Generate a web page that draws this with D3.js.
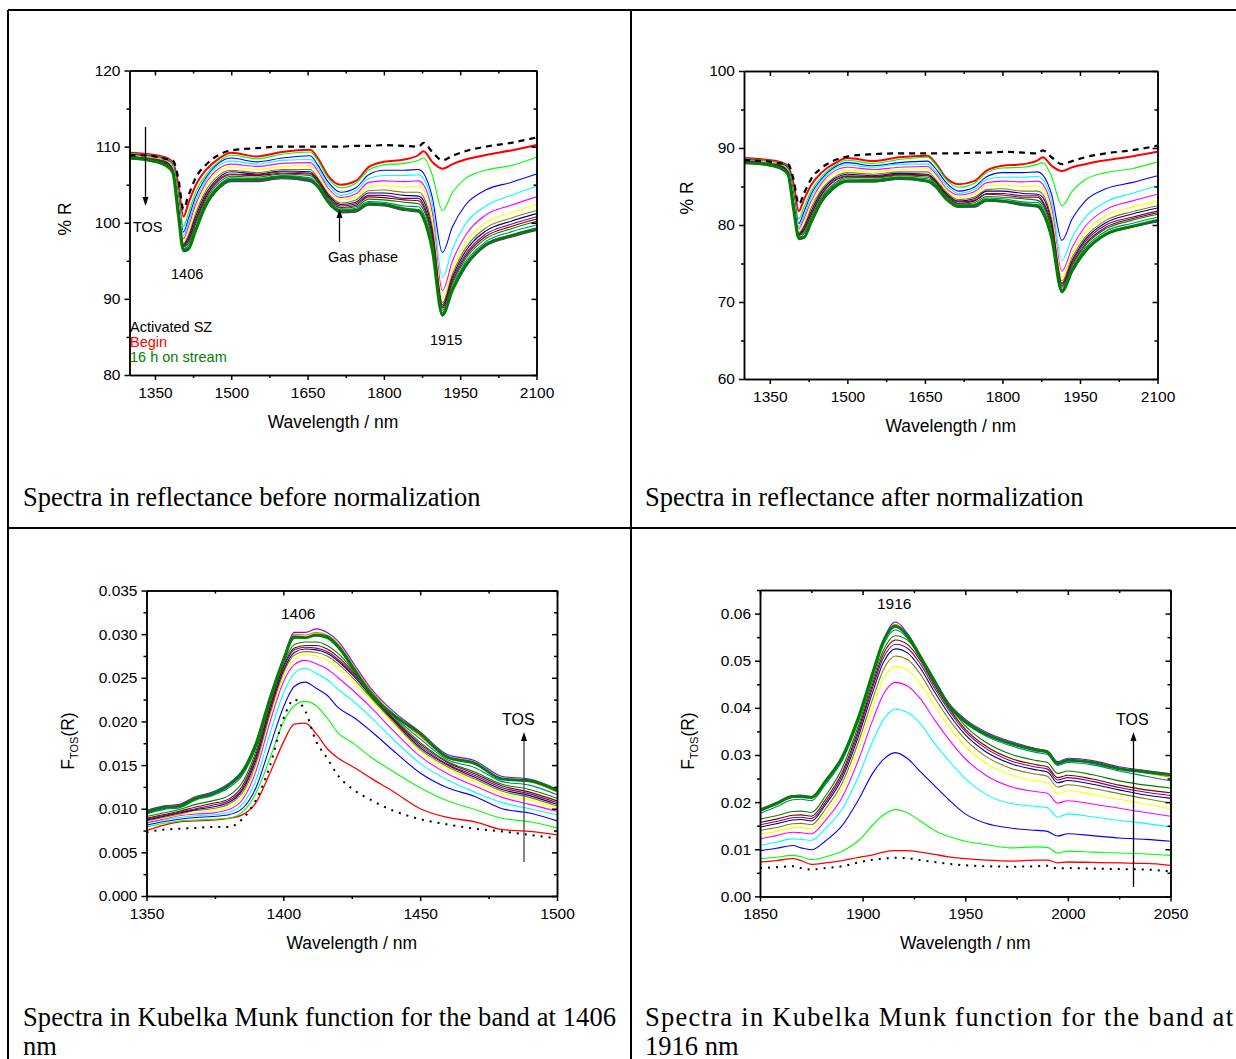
<!DOCTYPE html>
<html>
<head>
<meta charset="utf-8">
<script src="https://cdn.jsdelivr.net/npm/d3@7"></script>
<style>
  body { margin: 0; background: #fff; }
  text { font-family: "Liberation Sans", Arial, sans-serif; }
  .cap { font-family: "Liberation Serif", "Times New Roman", serif; font-size: 26.5px; }
</style>
</head>
<body>
<svg id="fig" width="1236" height="1059"></svg>
<script>
// wavelength grids (nm)
var wlNir = [1300,1340,1370,1385,1396,1406,1416,1430,1450,1475,1500,1550,1600,1655,1670,1690,1715,1745,1770,1800,1840,1868,1878,1895,1915,1935,1960,2000,2050,2100];
var wlBand1 = [1350,1356,1362,1368,1374,1380,1385,1390,1395,1400,1404,1408,1412,1416,1420,1426,1432,1440,1450,1460,1470,1480,1490,1500];
var wlBand2 = [1850,1858,1866,1870,1875,1882,1890,1898,1905,1910,1916,1922,1928,1935,1942,1950,1960,1972,1985,1990,1995,2000,2012,2025,2038,2050];

// line colours, in time-on-stream order (last one is the thick 16 h line)
var lineColors = ["#FF0000","#00FF00","#0000FF","#00FFFF","#FF00FF","#FFFF00","#808000","#000080","#800080","#800000","#008000","#008080","#FF8000","#8000FF","#008000"];

// panel 1: % R before normalization
var befAct    = [108.9,108.8,108.4,108.2,105.8,101.8,103.6,105.9,107.6,108.9,109.5,109.8,110.0,110.0,110.0,110.0,110.0,110.1,110.1,110.2,110.1,110.0,110.5,109.3,108.2,108.8,109.4,110.0,110.5,111.2];
var befRed    = [109.2,109.0,108.6,108.0,105.0,100.8,102.6,104.9,106.9,108.4,109.2,108.7,109.3,109.6,108.5,106.2,105.0,105.5,107.3,108.0,108.3,108.9,109.4,108.0,107.1,107.7,108.3,108.9,109.5,110.2];
var befGreen  = [109.1,108.9,108.5,107.8,104.0,99.5,101.3,104.0,106.3,108.0,108.9,108.4,109.0,109.3,108.2,105.9,104.6,105.2,106.9,107.6,107.8,108.2,108.5,106.3,101.6,104.0,105.8,106.9,107.5,108.6];
var befBlue   = [109.0,108.8,108.4,107.6,103.4,98.8,100.6,103.4,105.9,107.8,108.5,108.0,108.5,108.8,107.6,105.4,104.0,104.6,106.3,106.9,106.9,107.0,106.5,103.4,96.1,99.5,102.3,104.3,105.3,106.4];
var befCyan   = [108.9,108.7,108.3,107.5,103.0,98.3,100.0,102.9,105.6,107.5,108.1,107.7,108.2,108.3,107.2,105.0,103.6,104.2,105.8,106.2,106.2,106.3,105.8,102.5,92.8,96.6,99.8,102.2,103.6,104.8];
var befMagenta= [108.9,108.7,108.3,107.4,102.8,97.9,99.5,102.4,105.2,107.1,107.7,107.4,107.8,107.9,106.8,104.6,103.3,103.8,105.3,105.5,105.4,105.5,105.0,101.4,91.1,95.0,98.3,101.0,102.3,103.4];
var befYellow = [108.8,108.6,108.2,107.3,102.6,97.6,99.0,101.9,104.8,106.8,107.3,107.0,107.4,107.5,106.4,104.3,103.0,103.4,104.8,104.9,104.7,104.8,104.3,100.5,90.1,94.0,97.3,100.0,101.3,102.4];
var befDkYel  = [108.7,108.5,108.1,107.1,102.2,97.3,98.4,101.2,104.2,106.2,106.9,106.6,107.0,107.0,105.9,103.9,102.6,103.0,104.2,104.3,104.0,104.0,103.4,99.5,89.5,93.3,96.6,99.3,100.6,101.6];
var befNavy   = [108.7,108.4,108.0,107.0,102.0,97.1,98.1,100.8,103.8,105.9,106.7,106.4,106.8,106.7,105.7,103.7,102.4,102.7,103.9,103.9,103.6,103.5,102.9,99.0,89.2,92.9,96.2,98.9,100.2,101.2];
var befPurple = [108.6,108.4,107.9,106.9,101.8,97.0,97.8,100.4,103.5,105.7,106.4,106.3,106.7,106.5,105.6,103.5,102.2,102.5,103.6,103.6,103.2,103.2,102.4,98.5,89.0,92.6,95.8,98.5,99.8,100.8];
var befWine   = [108.6,108.3,107.9,106.9,101.6,96.9,97.6,100.1,103.3,105.5,106.3,106.2,106.5,106.4,105.4,103.4,102.0,102.3,103.4,103.3,103.0,102.9,102.1,98.1,88.8,92.3,95.5,98.2,99.5,100.5];
var befOlive  = [108.6,108.3,107.8,106.8,101.5,96.8,97.3,99.8,103.0,105.2,106.1,106.0,106.4,106.2,105.3,103.2,101.9,102.1,103.1,103.0,102.7,102.5,101.7,97.7,88.5,92.0,95.2,97.9,99.2,100.2];
var befTeal   = [108.5,108.2,107.7,106.7,101.3,96.6,97.0,99.4,102.7,104.9,105.9,105.8,106.2,105.9,105.0,103.0,101.7,101.9,102.8,102.7,102.2,102.1,101.2,97.1,88.2,91.6,94.8,97.5,98.8,99.7];
var befOrange = [108.5,108.2,107.6,106.6,101.1,96.5,96.7,99.1,102.4,104.7,105.7,105.7,106.1,105.7,104.9,102.9,101.6,101.7,102.6,102.5,101.9,101.7,100.8,96.7,88.0,91.3,94.4,97.2,98.4,99.3];
var befViolet = [108.4,108.1,107.5,106.5,100.8,96.2,96.4,98.8,102.1,104.4,105.4,105.4,105.8,105.4,104.6,102.6,101.3,101.4,102.3,102.2,101.6,101.4,100.4,96.3,87.7,91.0,94.1,96.9,98.1,99.0];
var befEnd    = [108.5,108.2,107.6,106.6,101.0,96.4,96.6,99.0,102.3,104.6,105.6,105.6,106.0,105.6,104.8,102.8,101.5,101.6,102.5,102.4,101.8,101.6,100.6,96.5,87.9,91.2,94.3,97.1,98.3,99.2];

// panel 2: % R after normalization
var aftAct    = [88.4,88.3,88.0,87.9,85.9,82.7,84.1,86.0,87.4,88.4,88.9,89.2,89.3,89.3,89.3,89.3,89.3,89.4,89.4,89.5,89.4,89.3,89.7,88.8,87.9,88.3,88.8,89.3,89.7,90.3];
var aftRed    = [88.7,88.5,88.2,87.7,85.3,81.8,83.3,85.2,86.8,88.0,88.7,88.3,88.8,89.0,88.1,86.2,85.3,85.7,87.1,87.7,87.9,88.4,88.8,87.7,87.0,87.5,87.9,88.4,88.9,89.5];
var aftGreen  = [88.6,88.4,88.1,87.5,84.4,80.8,82.3,84.4,86.3,87.7,88.4,88.0,88.5,88.8,87.9,86.0,84.9,85.4,86.8,87.4,87.5,87.9,88.1,86.3,82.5,84.4,85.9,86.8,87.3,88.2];
var aftBlue   = [88.5,88.3,88.0,87.4,84.0,80.2,81.7,84.0,86.0,87.5,88.1,87.7,88.1,88.3,87.4,85.6,84.4,84.9,86.3,86.8,86.8,86.9,86.5,84.0,78.0,80.8,83.1,84.7,85.5,86.4];
var aftCyan   = [88.4,88.3,87.9,87.3,83.6,79.8,81.2,83.6,85.7,87.3,87.8,87.5,87.9,87.9,87.0,85.3,84.1,84.6,85.9,86.2,86.2,86.3,85.9,83.2,75.4,78.4,81.0,83.0,84.1,85.1];
var aftMagenta= [88.4,88.3,87.9,87.2,83.5,79.5,80.8,83.1,85.4,87.0,87.5,87.2,87.5,87.6,86.7,84.9,83.9,84.3,85.5,85.7,85.6,85.7,85.3,82.3,74.0,77.1,79.8,82.0,83.1,84.0];
var aftYellow = [88.3,88.2,87.9,87.1,83.3,79.3,80.4,82.7,85.1,86.7,87.1,86.9,87.2,87.3,86.4,84.7,83.6,84.0,85.1,85.2,85.0,85.1,84.7,81.6,73.2,76.3,79.0,81.2,82.3,83.1];
var aftDkYel  = [88.3,88.1,87.8,87.0,83.0,79.0,79.9,82.2,84.6,86.2,86.8,86.6,86.9,86.9,86.0,84.4,83.3,83.6,84.6,84.7,84.4,84.4,84.0,80.8,72.7,75.8,78.4,80.6,81.7,82.5];
var aftNavy   = [88.3,88.0,87.7,86.9,82.8,78.8,79.7,81.8,84.3,86.0,86.6,86.4,86.7,86.6,85.8,84.2,83.1,83.4,84.4,84.4,84.1,84.0,83.6,80.4,72.4,75.4,78.1,80.3,81.4,82.2];
var aftPurple = [88.2,88.0,87.6,86.8,82.7,78.8,79.4,81.5,84.0,85.8,86.4,86.3,86.6,86.5,85.7,84.0,83.0,83.2,84.1,84.1,83.8,83.8,83.1,80.0,72.3,75.2,77.8,80.0,81.0,81.8];
var aftWine   = [88.2,87.9,87.6,86.8,82.5,78.7,79.3,81.3,83.9,85.7,86.3,86.2,86.5,86.4,85.6,84.0,82.8,83.1,84.0,83.9,83.6,83.6,82.9,79.7,72.1,74.9,77.5,79.7,80.8,81.6];
var aftOlive  = [88.2,87.9,87.5,86.7,82.4,78.6,79.0,81.0,83.6,85.4,86.2,86.1,86.4,86.2,85.5,83.8,82.7,82.9,83.7,83.6,83.4,83.2,82.6,79.3,71.9,74.7,77.3,79.5,80.6,81.4];
var aftTeal   = [88.1,87.9,87.5,86.6,82.3,78.4,78.8,80.7,83.4,85.2,86.0,85.9,86.2,86.0,85.3,83.6,82.6,82.7,83.5,83.4,83.0,82.9,82.2,78.8,71.6,74.4,77.0,79.2,80.2,81.0];
var aftOrange = [88.1,87.9,87.4,86.6,82.1,78.4,78.5,80.5,83.1,85.0,85.8,85.8,86.2,85.8,85.2,83.6,82.5,82.6,83.3,83.2,82.7,82.6,81.8,78.5,71.5,74.1,76.7,78.9,79.9,80.6];
var aftViolet = [88.0,87.8,87.3,86.5,81.8,78.1,78.3,80.2,82.9,84.8,85.6,85.6,85.9,85.6,84.9,83.3,82.3,82.3,83.1,83.0,82.5,82.3,81.5,78.2,71.2,73.9,76.4,78.7,79.7,80.4];
var aftEnd    = [88.1,87.9,87.4,86.6,82.0,78.3,78.4,80.4,83.1,84.9,85.7,85.7,86.1,85.7,85.1,83.5,82.4,82.5,83.2,83.1,82.7,82.5,81.7,78.4,71.4,74.1,76.6,78.8,79.8,80.6];

// panel 3: Kubelka-Munk, band at 1406 nm
var km1Act    = [.0073,.0076,.0077,.0078,.0079,.0079,.0088,.0110,.0148,.0203,.0225,.0212,.0177,.0158,.0138,.0121,.0110,.0098,.0088,.0082,.0077,.0074,.0070,.0066];
var km1Red    = [.0075,.0081,.0085,.0086,.0087,.0089,.0093,.0107,.0140,.0176,.0197,.0198,.0186,.0169,.0158,.0147,.0135,.0120,.0100,.0090,.0085,.0076,.0074,.0070];
var km1Green  = [.0079,.0083,.0086,.0087,.0088,.0089,.0096,.0118,.0157,.0199,.0218,.0223,.0218,.0204,.0187,.0174,.0159,.0143,.0124,.0109,.0099,.0089,.0085,.0078];
var km1Blue   = [.0081,.0085,.0088,.0090,.0091,.0093,.0100,.0124,.0170,.0216,.0240,.0245,.0238,.0230,.0216,.0204,.0189,.0167,.0141,.0124,.0114,.0100,.0095,.0086];
var km1Cyan   = [.0083,.0087,.0090,.0092,.0093,.0096,.0105,.0133,.0185,.0232,.0255,.0261,.0255,.0248,.0237,.0222,.0205,.0180,.0152,.0133,.0119,.0107,.0100,.0093];
var km1Magenta= [.0084,.0088,.0092,.0094,.0095,.0099,.0110,.0143,.0198,.0245,.0265,.0270,.0266,.0260,.0250,.0234,.0216,.0190,.0160,.0140,.0126,.0113,.0105,.0097];
var km1Yellow = [.0085,.0089,.0093,.0096,.0098,.0102,.0114,.0150,.0205,.0250,.0271,.0277,.0275,.0270,.0261,.0244,.0224,.0198,.0166,.0146,.0131,.0117,.0110,.0101];
var km1DkYel  = [.0086,.0090,.0094,.0098,.0100,.0105,.0118,.0152,.0207,.0255,.0276,.0280,.0279,.0275,.0266,.0248,.0227,.0200,.0168,.0148,.0134,.0120,.0113,.0103];
var km1Navy   = [.0087,.0091,.0095,.0099,.0102,.0107,.0121,.0156,.0211,.0258,.0279,.0283,.0282,.0278,.0269,.0251,.0229,.0202,.0170,.0150,.0136,.0122,.0115,.0105];
var km1Purple = [.0088,.0092,.0096,.0100,.0104,.0109,.0123,.0159,.0214,.0261,.0282,.0285,.0284,.0280,.0271,.0253,.0231,.0203,.0172,.0151,.0138,.0124,.0117,.0107];
var km1Wine   = [.0089,.0093,.0097,.0102,.0106,.0111,.0126,.0162,.0216,.0263,.0284,.0287,.0287,.0283,.0274,.0255,.0233,.0204,.0174,.0153,.0140,.0126,.0119,.0109];
var km1Olive  = [.0091,.0095,.0099,.0105,.0109,.0115,.0130,.0166,.0220,.0266,.0288,.0291,.0291,.0287,.0278,.0257,.0235,.0206,.0176,.0154,.0142,.0128,.0122,.0112];
var km1Teal   = [.0094,.0099,.0101,.0110,.0115,.0124,.0138,.0170,.0222,.0268,.0295,.0296,.0298,.0295,.0284,.0258,.0233,.0207,.0180,.0156,.0147,.0131,.0127,.0116];
var km1Orange = [.0096,.0101,.0104,.0112,.0117,.0126,.0141,.0173,.0225,.0271,.0300,.0299,.0302,.0299,.0289,.0262,.0236,.0209,.0183,.0158,.0151,.0134,.0131,.0119];
var km1Violet = [.0098,.0103,.0105,.0114,.0119,.0129,.0144,.0176,.0227,.0272,.0302,.0302,.0306,.0302,.0292,.0265,.0238,.0212,.0188,.0162,.0155,.0137,.0134,.0122];
var km1End    = [.0096,.0101,.0103,.0112,.0117,.0127,.0142,.0174,.0225,.0270,.0297,.0296,.0299,.0297,.0286,.0259,.0231,.0208,.0186,.0159,.0152,.0134,.0132,.0121];

// panel 4: Kubelka-Munk, band at 1916 nm
var km2Act    = [.0060,.0062,.0064,.0060,.0057,.0060,.0064,.0072,.0078,.0080,.0082,.0081,.0077,.0073,.0069,.0066,.0064,.0063,.0064,.0065,.0059,.0060,.0059,.0058,.0057,.0053];
var km2Red    = [.0073,.0076,.0080,.0076,.0068,.0071,.0076,.0083,.0088,.0094,.0097,.0097,.0094,.0089,.0084,.0080,.0077,.0075,.0077,.0077,.0071,.0073,.0072,.0071,.0070,.0066];
var km2Green  = [.0080,.0083,.0087,.0084,.0078,.0084,.0096,.0118,.0152,.0172,.0184,.0177,.0160,.0140,.0127,.0117,.0110,.0103,.0105,.0104,.0092,.0096,.0094,.0092,.0090,.0087];
var km2Blue   = [.0097,.0102,.0108,.0103,.0099,.0118,.0150,.0205,.0262,.0290,.0305,.0292,.0265,.0235,.0205,.0175,.0155,.0145,.0140,.0138,.0128,.0133,.0129,.0124,.0121,.0117];
var km2Cyan   = [.0108,.0115,.0122,.0121,.0119,.0145,.0185,.0255,.0330,.0374,.0397,.0390,.0367,.0325,.0288,.0250,.0217,.0197,.0191,.0188,.0168,.0175,.0169,.0161,.0155,.0147];
var km2Magenta= [.0122,.0129,.0136,.0135,.0133,.0162,.0210,.0290,.0375,.0428,.0454,.0446,.0420,.0375,.0333,.0292,.0257,.0233,.0222,.0219,.0198,.0203,.0196,.0187,.0178,.0170];
var km2Yellow = [.0132,.0138,.0146,.0146,.0143,.0175,.0228,.0312,.0402,.0460,.0488,.0480,.0452,.0405,.0360,.0318,.0283,.0258,.0245,.0241,.0218,.0224,.0216,.0206,.0196,.0186];
var km2DkYel  = [.0140,.0146,.0154,.0155,.0152,.0186,.0240,.0328,.0420,.0480,.0510,.0502,.0472,.0422,.0376,.0333,.0297,.0272,.0259,.0255,.0232,.0237,.0229,.0218,.0207,.0198];
var km2Navy   = [.0147,.0154,.0162,.0163,.0160,.0195,.0250,.0340,.0435,.0495,.0525,.0516,.0485,.0434,.0387,.0343,.0307,.0282,.0268,.0264,.0241,.0246,.0238,.0226,.0215,.0208];
var km2Purple = [.0152,.0159,.0167,.0168,.0165,.0200,.0257,.0348,.0445,.0505,.0535,.0526,.0494,.0442,.0395,.0350,.0314,.0288,.0274,.0270,.0247,.0252,.0244,.0231,.0221,.0214];
var km2Wine   = [.0157,.0164,.0172,.0173,.0170,.0206,.0263,.0355,.0452,.0513,.0544,.0534,.0501,.0448,.0400,.0355,.0319,.0293,.0279,.0275,.0252,.0257,.0249,.0236,.0226,.0220];
var km2Olive  = [.0164,.0171,.0180,.0181,.0178,.0214,.0272,.0363,.0460,.0521,.0553,.0543,.0508,.0454,.0406,.0362,.0327,.0302,.0288,.0284,.0261,.0266,.0258,.0245,.0236,.0230];
var km2Teal   = [.0176,.0190,.0205,.0206,.0203,.0238,.0288,.0372,.0468,.0532,.0565,.0547,.0505,.0453,.0402,.0368,.0340,.0320,.0305,.0301,.0278,.0284,.0279,.0266,.0255,.0245];
var km2Orange = [.0181,.0195,.0210,.0211,.0208,.0243,.0293,.0378,.0473,.0538,.0577,.0553,.0509,.0457,.0406,.0372,.0345,.0325,.0310,.0306,.0282,.0289,.0284,.0271,.0262,.0253];
var km2Violet = [.0185,.0199,.0214,.0215,.0212,.0247,.0297,.0382,.0478,.0543,.0582,.0557,.0513,.0461,.0410,.0376,.0349,.0329,.0313,.0309,.0286,.0293,.0288,.0275,.0267,.0260];
var km2End    = [.0183,.0197,.0212,.0212,.0210,.0245,.0295,.0380,.0475,.0540,.0573,.0552,.0509,.0456,.0405,.0371,.0344,.0325,.0310,.0306,.0282,.0289,.0284,.0271,.0264,.0258];

// tick values
var nirTicks = [1350,1500,1650,1800,1950,2100];
var nirMinor = [1425,1575,1725,1875,2025];
var befTicks = [80,90,100,110,120];
var befMinor = [85,95,105,115];
var aftTicks = [60,70,80,90,100];
var aftMinor = [65,75,85,95];
var band1Ticks = [1350,1400,1450,1500];
var band1Minor = [1375,1425,1475];
var km1Ticks = [0,.005,.010,.015,.020,.025,.030,.035];
var km1Minor = [.0025,.0075,.0125,.0175,.0225,.0275,.0325];
var band2Ticks = [1850,1900,1950,2000,2050];
var band2Minor = [1875,1925,1975,2025];
var km2Ticks = [0,.01,.02,.03,.04,.05,.06];
var km2Minor = [.005,.015,.025,.035,.045,.055,.065];

var svg = d3.select("#fig");

// table frame
var frame = svg.append("g").attr("stroke", "#000").attr("stroke-width", 2);
frame.append("line").attr("x1", 8).attr("x2", 1236).attr("y1", 10).attr("y2", 10);
frame.append("line").attr("x1", 8).attr("x2", 8).attr("y1", 10).attr("y2", 1059);
frame.append("line").attr("x1", 631).attr("x2", 631).attr("y1", 10).attr("y2", 1059);
frame.append("line").attr("x1", 8).attr("x2", 1236).attr("y1", 528).attr("y2", 528);

function drawPanel(p) {
  var x = d3.scaleLinear().domain(p.xDom).range([p.left, p.right]);
  var y = d3.scaleLinear().domain(p.yDom).range([p.bottom, p.top]);
  var g = svg.append("g");

  svg.append("clipPath").attr("id", "clip" + p.id)
    .append("rect")
    .attr("x", p.left).attr("y", p.top)
    .attr("width", p.right - p.left).attr("height", p.bottom - p.top);

  var line = d3.line()
    .curve(d3.curveMonotoneX)
    .x(function(d, i) { return x(p.wl[i]); })
    .y(function(d) { return y(d); });

  var plot = g.append("g").attr("clip-path", "url(#clip" + p.id + ")");
  p.series.forEach(function(s, i) {
    var w = 1.1;
    if (i === 0) w = p.redWidth;
    if (i === p.series.length - 1) w = 3;
    plot.append("path")
      .attr("d", line(s))
      .attr("fill", "none")
      .attr("stroke", lineColors[i])
      .attr("stroke-width", w)
      .attr("stroke-linejoin", "round");
  });
  plot.append("path")
    .attr("d", line(p.ref))
    .attr("fill", "none")
    .attr("stroke", "#000")
    .attr("stroke-width", p.refWidth)
    .attr("stroke-dasharray", p.refDash);

  // axes, with mirrored ticks pointing inwards on top and right
  var axes = [
    [d3.axisBottom(x).tickValues(p.xTicks).tickSize(5).tickPadding(7).tickFormat(d3.format("d")), "translate(0," + p.bottom + ")"],
    [d3.axisBottom(x).tickValues(p.xMinor).tickSize(3).tickFormat(""), "translate(0," + p.bottom + ")"],
    [d3.axisTop(x).tickValues(p.xTicks).tickSize(-5).tickFormat(""), "translate(0," + p.top + ")"],
    [d3.axisTop(x).tickValues(p.xMinor).tickSize(-3).tickFormat(""), "translate(0," + p.top + ")"],
    [d3.axisLeft(y).tickValues(p.yTicks).tickSize(5).tickPadding(4).tickFormat(d3.format(p.yFmt)), "translate(" + p.left + ",0)"],
    [d3.axisLeft(y).tickValues(p.yMinor).tickSize(3).tickFormat(""), "translate(" + p.left + ",0)"],
    [d3.axisRight(y).tickValues(p.yTicks).tickSize(-5).tickFormat(""), "translate(" + p.right + ",0)"],
    [d3.axisRight(y).tickValues(p.yMinor).tickSize(-3).tickFormat(""), "translate(" + p.right + ",0)"]
  ];
  axes.forEach(function(a) {
    var ag = g.append("g").attr("transform", a[1]).call(a[0].tickSizeOuter(0));
    ag.attr("font-family", null).attr("font-size", 15.5);
    ag.selectAll("path, line").attr("stroke", "#000").attr("stroke-width", 1.5);
    ag.selectAll("text").attr("fill", "#000");
  });

  g.append("text")
    .attr("x", (p.left + p.right) / 2).attr("y", p.bottom + 53)
    .attr("text-anchor", "middle").attr("font-size", 17.5)
    .text("Wavelength / nm");

  var yl = g.append("text")
    .attr("transform", "translate(" + p.yLabelX + "," + p.yLabelY + ") rotate(-90)")
    .attr("text-anchor", "middle").attr("font-size", 17.5);
  if (p.km) {
    yl.append("tspan").text("F");
    yl.append("tspan").attr("font-size", 11).attr("dy", 4).text("TOS");
    yl.append("tspan").attr("dy", -4).text("(R)");
  } else {
    yl.text("% R");
  }
  return { x: x, y: y, g: g };
}

function arrow(g, x, y1, y2, color) {
  // shaft from y1 to y2, head at y2
  var dir = y2 > y1 ? 1 : -1;
  g.append("line").attr("x1", x).attr("x2", x).attr("y1", y1).attr("y2", y2 - dir * 6)
    .attr("stroke", color).attr("stroke-width", 1.3);
  g.append("path")
    .attr("d", "M" + x + "," + y2 + "L" + (x - 3) + "," + (y2 - dir * 9) + "L" + (x + 3) + "," + (y2 - dir * 9) + "Z")
    .attr("fill", "#000");
}

function label(g, x, y, txt, size, color) {
  g.append("text").attr("x", x).attr("y", y).attr("font-size", size)
    .attr("fill", color || "#000").text(txt);
}

// panel 1
var p1 = drawPanel({
  id: 1, left: 129.5, right: 536.5, top: 70.5, bottom: 375,
  xDom: [1300, 2100], yDom: [80, 120], wl: wlNir,
  xTicks: nirTicks, xMinor: nirMinor, yTicks: befTicks, yMinor: befMinor, yFmt: "d",
  series: [befRed, befGreen, befBlue, befCyan, befMagenta, befYellow, befDkYel, befNavy, befPurple, befWine, befOlive, befTeal, befOrange, befViolet, befEnd],
  ref: befAct, refWidth: 2.2, refDash: "6,5", redWidth: 2,
  yLabelX: 71, yLabelY: 219
});
arrow(p1.g, 145.5, 127, 206, "#000");
label(p1.g, 133, 232, "TOS", 14.5);
label(p1.g, 171, 278.5, "1406", 14.5);
arrow(p1.g, 339.5, 242, 209, "#000");
label(p1.g, 328, 262, "Gas phase", 14.5);
label(p1.g, 430, 345, "1915", 14.5);
label(p1.g, 130, 331.5, "Activated SZ", 14.5, "#000");
label(p1.g, 130, 346.5, "Begin", 14.5, "#FF0000");
label(p1.g, 130, 361.5, "16 h on stream", 14.5, "#008000");

// panel 2
var p2 = drawPanel({
  id: 2, left: 744, right: 1157.5, top: 71, bottom: 379,
  xDom: [1300, 2100], yDom: [60, 100], wl: wlNir,
  xTicks: nirTicks, xMinor: nirMinor, yTicks: aftTicks, yMinor: aftMinor, yFmt: "d",
  series: [aftRed, aftGreen, aftBlue, aftCyan, aftMagenta, aftYellow, aftDkYel, aftNavy, aftPurple, aftWine, aftOlive, aftTeal, aftOrange, aftViolet, aftEnd],
  ref: aftAct, refWidth: 2.2, refDash: "6,5", redWidth: 2,
  yLabelX: 693, yLabelY: 198
});

// panel 3
var p3 = drawPanel({
  id: 3, left: 146.5, right: 557, top: 590.5, bottom: 896,
  xDom: [1350, 1500], yDom: [0, 0.035], wl: wlBand1,
  xTicks: band1Ticks, xMinor: band1Minor, yTicks: km1Ticks, yMinor: km1Minor, yFmt: ".3f",
  series: [km1Red, km1Green, km1Blue, km1Cyan, km1Magenta, km1Yellow, km1DkYel, km1Navy, km1Purple, km1Wine, km1Olive, km1Teal, km1Orange, km1Violet, km1End],
  ref: km1Act, refWidth: 2, refDash: "2,6", redWidth: 1.3, km: true,
  yLabelX: 74, yLabelY: 741
});
label(p3.g, 281, 618.5, "1406", 15.5);
label(p3.g, 502, 725, "TOS", 16);
arrow(p3.g, 524, 862, 732, "#444");

// panel 4
var p4 = drawPanel({
  id: 4, left: 760, right: 1170.5, top: 590, bottom: 896.4,
  xDom: [1850, 2050], yDom: [0, 0.065], wl: wlBand2,
  xTicks: band2Ticks, xMinor: band2Minor, yTicks: km2Ticks, yMinor: km2Minor, yFmt: ".2f",
  series: [km2Red, km2Green, km2Blue, km2Cyan, km2Magenta, km2Yellow, km2DkYel, km2Navy, km2Purple, km2Wine, km2Olive, km2Teal, km2Orange, km2Violet, km2End],
  ref: km2Act, refWidth: 2, refDash: "2,6", redWidth: 1.3, km: true,
  yLabelX: 694, yLabelY: 741
});
label(p4.g, 877, 609, "1916", 15.5);
label(p4.g, 1116, 725, "TOS", 16);
arrow(p4.g, 1133.5, 887, 732, "#000");

// captions
var caps = svg.append("g");
caps.append("text").attr("class", "cap").attr("x", 23).attr("y", 506).text("Spectra in reflectance before normalization");
caps.append("text").attr("class", "cap").attr("x", 645).attr("y", 506).text("Spectra in reflectance after normalization");
caps.append("text").attr("class", "cap").attr("x", 23).attr("y", 1026)
  .attr("textLength", 593).attr("lengthAdjust", "spacing")
  .text("Spectra in Kubelka Munk function for the band at 1406");
caps.append("text").attr("class", "cap").attr("x", 23).attr("y", 1055).text("nm");
caps.append("text").attr("class", "cap").attr("x", 645).attr("y", 1026)
  .attr("textLength", 588).attr("lengthAdjust", "spacing")
  .text("Spectra in Kubelka Munk function for the band at");
caps.append("text").attr("class", "cap").attr("x", 645).attr("y", 1055).text("1916 nm");
</script>
</body>
</html>
